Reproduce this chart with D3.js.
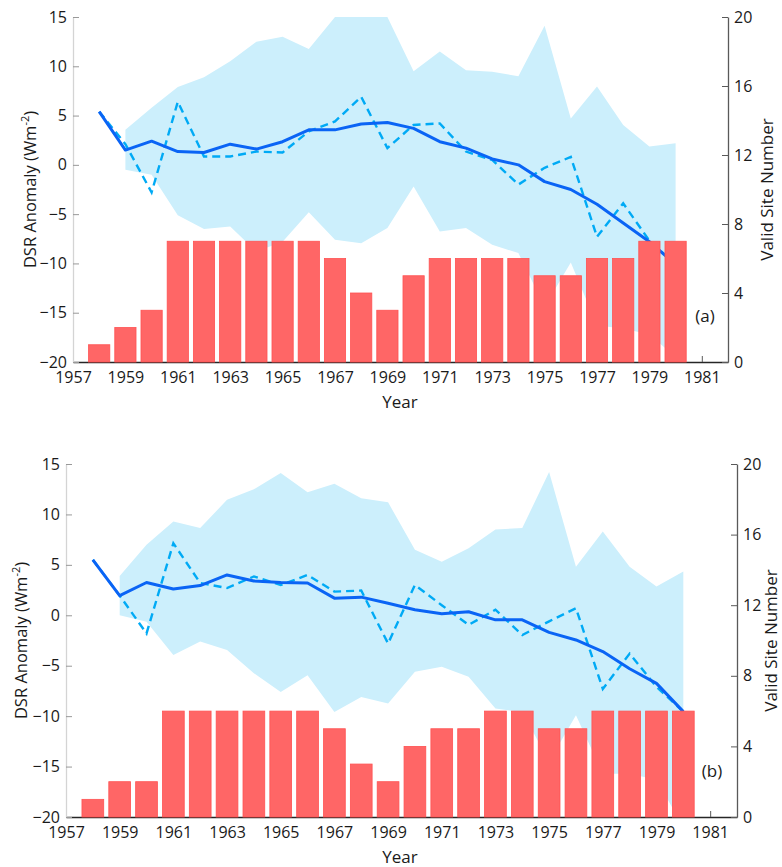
<!DOCTYPE html>
<html>
<head>
<meta charset="utf-8">
<script src="https://cdn.jsdelivr.net/npm/d3@7"></script>
<style>
  html, body { margin: 0; padding: 0; background: #fff; }
  svg text { font-family: 'Open Sans', sans-serif; fill: #1a1a1a; }
</style>
</head>
<body>
<svg id="chart" width="782" height="867"></svg>
<script>
// years 1958..1980 for lines and bars, band starts 1959
const years = d3.range(1958, 1981)
const bandYears = d3.range(1959, 1981)
const xTicks = d3.range(1957, 1982, 2)
const leftTicks = [15, 10, 5, 0, -5, -10, -15, -20]
const rightTicks = [0, 4, 8, 12, 16, 20]

// panel (a)
const meanA = [5.4, 1.5, 2.4, 1.35, 1.25, 2.1, 1.6, 2.35, 3.55, 3.55, 4.15, 4.3, 3.7, 2.35, 1.7, 0.6, 0.0, -1.7, -2.5, -4.0, -5.9, -7.8, -10.1]
const annualA = [5.4, 2.1, -2.8, 6.4, 0.85, 0.85, 1.35, 1.25, 3.4, 4.4, 6.9, 1.7, 4.05, 4.2, 1.35, 0.5, -2.0, -0.3, 0.8, -7.3, -3.9, -7.7, -10.1]
const upperA = [3.55, 5.8, 7.9, 8.9, 10.5, 12.5, 13.0, 11.75, 15.0, 16.0, 15.0, 9.5, 11.5, 9.6, 9.45, 9.0, 14.1, 4.7, 7.95, 4.05, 1.85, 2.2]
const lowerA = [-0.5, -1.0, -5.1, -6.5, -6.25, -8.8, -7.8, -4.8, -7.6, -7.95, -6.4, -2.2, -6.75, -6.4, -8.1, -8.95, -14.4, -9.9, -16.3, -16.6, -17.2, -19.5]
const sitesA = [1, 2, 3, 7, 7, 7, 7, 7, 7, 6, 4, 3, 5, 6, 6, 6, 6, 5, 5, 6, 6, 7, 7]

// panel (b)
const meanB = [5.5, 1.95, 3.25, 2.6, 2.95, 4.0, 3.4, 3.25, 3.2, 1.7, 1.8, 1.2, 0.55, 0.15, 0.35, -0.45, -0.45, -1.7, -2.45, -3.6, -5.3, -6.75, -9.55]
const annualB = [5.5, 1.95, -1.8, 7.15, 3.2, 2.7, 3.85, 3.0, 4.0, 2.35, 2.45, -2.8, 3.0, 1.0, -0.95, 0.55, -1.95, -0.6, 0.7, -7.3, -3.8, -7.1, -9.55]
const upperB = [3.9, 7.0, 9.3, 8.65, 11.45, 12.5, 14.1, 12.2, 13.05, 11.6, 11.2, 6.5, 5.3, 6.65, 8.5, 8.65, 14.2, 4.8, 8.3, 4.8, 2.85, 4.35]
const lowerB = [0.0, -0.65, -3.95, -2.6, -3.45, -5.75, -7.6, -5.95, -9.6, -8.1, -8.75, -5.6, -5.1, -6.1, -9.25, -9.6, -14.5, -9.9, -15.7, -15.7, -16.3, -21.0]
const sitesB = [1, 2, 2, 6, 6, 6, 6, 6, 6, 5, 3, 2, 4, 5, 5, 6, 6, 5, 5, 6, 6, 6, 6]

const svg = d3.select('#chart')

function drawPanel(cfg) {
    const { left, right, top, bottom, id } = cfg
    const g = svg.append('g')

    const x = d3.scaleLinear().domain([1957, 1982]).range([left, right])
    const y = d3.scaleLinear().domain([-20, 15]).range([bottom, top])
    const yR = d3.scaleLinear().domain([0, 20]).range([bottom, top])

    g.append('clipPath')
        .attr('id', id)
        .append('rect')
        .attr('x', left)
        .attr('y', top)
        .attr('width', right - left)
        .attr('height', bottom - top)

    // spread band
    const band = bandYears.map((yr, i) => ({ yr, hi: cfg.upper[i], lo: cfg.lower[i] }))
    g.append('path')
        .datum(band)
        .attr('clip-path', `url(#${id})`)
        .attr('fill', '#cceffc')
        .attr('d', d3.area().x((d) => x(d.yr)).y0((d) => y(d.lo)).y1((d) => y(d.hi)))

    // bottom axis, inward ticks
    const xAxis = d3.axisBottom(x)
        .tickValues(xTicks)
        .tickFormat(d3.format('d'))
        .tickSizeInner(-6)
        .tickSizeOuter(0)
        .tickPadding(10)
    const gx = g.append('g')
        .attr('transform', `translate(0,${bottom})`)
        .call(xAxis)
    gx.select('.domain').attr('stroke', '#262626').attr('stroke-width', 1.3)
    gx.selectAll('line').attr('stroke', '#595959')
    gx.selectAll('text').style('font-size', '16px').attr('fill', '#1a1a1a')

    // lines
    const line = d3.line().x((d, i) => x(years[i])).y((d) => y(d))
    g.append('path')
        .datum(cfg.annual)
        .attr('fill', 'none')
        .attr('stroke', '#00aaf5')
        .attr('stroke-width', 2.4)
        .attr('stroke-dasharray', '8,5')
        .attr('d', line)
    g.append('path')
        .datum(cfg.mean)
        .attr('fill', 'none')
        .attr('stroke', '#0a64f5')
        .attr('stroke-width', 3)
        .attr('stroke-linejoin', 'round')
        .attr('d', line)

    // site-number bars over the lines
    const bw = (x(1) - x(0)) * 0.81
    g.selectAll('.bar')
        .data(cfg.sites)
        .join('rect')
        .attr('class', 'bar')
        .attr('x', (d, i) => x(years[i]) - bw / 2)
        .attr('width', bw)
        .attr('y', (d) => yR(d))
        .attr('height', (d) => yR(0) - yR(d))
        .attr('fill', '#ff6666')
        .attr('stroke', '#ff5252')
        .attr('stroke-width', 0.8)

    // left axis
    const gl = g.append('g')
        .attr('transform', `translate(${left},0)`)
        .call(d3.axisLeft(y).tickValues(leftTicks).tickSizeInner(-6).tickSizeOuter(0).tickPadding(6))
    gl.select('.domain').attr('stroke', '#d4d4d4').attr('stroke-width', 1.3)
    gl.selectAll('line').attr('stroke', '#999')
    gl.selectAll('text').style('font-size', '16px').attr('fill', '#1a1a1a')

    // right axis
    const gr = g.append('g')
        .attr('transform', `translate(${right},0)`)
        .call(d3.axisRight(yR).tickValues(rightTicks).tickSizeInner(-6).tickSizeOuter(0).tickPadding(6))
    gr.select('.domain').attr('stroke', '#595959').attr('stroke-width', 1.3)
    gr.selectAll('line').attr('stroke', '#595959')
    gr.selectAll('text').style('font-size', '16px').attr('fill', '#1a1a1a')

    // axis titles
    const midY = (top + bottom) / 2
    const lt = g.append('text')
        .attr('transform', `translate(${cfg.ltX},${midY}) rotate(-90)`)
        .attr('text-anchor', 'middle')
        .style('font-size', '16.5px')
    lt.append('tspan').text('DSR Anomaly (Wm')
    lt.append('tspan').attr('dy', -7).style('font-size', '11px').text('-2')
    lt.append('tspan').attr('dy', 7).text(')')

    g.append('text')
        .attr('transform', `translate(${cfg.rtX},${midY}) rotate(-90)`)
        .attr('text-anchor', 'middle')
        .style('font-size', '17px')
        .text('Valid Site Number')

    g.append('text')
        .attr('x', 400)
        .attr('y', bottom + 46)
        .attr('text-anchor', 'middle')
        .style('font-size', '17px')
        .text('Year')

    g.append('text')
        .attr('x', cfg.tagX)
        .attr('y', bottom - 40)
        .attr('text-anchor', 'middle')
        .style('font-size', '17px')
        .text(cfg.tag)
}

drawPanel({
    id: 'clipA', left: 73, right: 728, top: 17, bottom: 362,
    mean: meanA, annual: annualA, upper: upperA, lower: lowerA, sites: sitesA,
    ltX: 36, rtX: 773, tag: '(a)', tagX: 705,
})
drawPanel({
    id: 'clipB', left: 66, right: 737, top: 464, bottom: 817,
    mean: meanB, annual: annualB, upper: upperB, lower: lowerB, sites: sitesB,
    ltX: 27, rtX: 777, tag: '(b)', tagX: 712,
})
</script>
</body>
</html>
